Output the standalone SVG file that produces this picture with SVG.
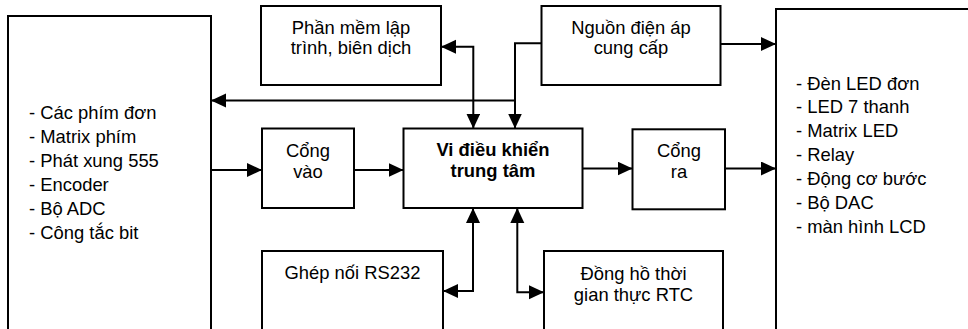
<svg xmlns="http://www.w3.org/2000/svg" width="968" height="329" viewBox="0 0 968 329">
<style>
.box{fill:#fff;stroke:#000;stroke-width:2}
.t{font-family:"Liberation Sans",Arial,sans-serif;font-size:18.4px;fill:#000}
.c{text-anchor:middle}
.b{font-weight:bold}
.ln{fill:none;stroke:#000;stroke-width:2}
</style>
<defs>
<marker id="ah" markerUnits="userSpaceOnUse" markerWidth="16" markerHeight="15" refX="15" refY="7" orient="auto-start-reverse">
<path d="M0,0 L15,7 L0,14 z" fill="#000"/>
</marker>
</defs>
<rect width="968" height="329" fill="#fff"/>
<g id="input-devices">
<rect class="box" x="8" y="16" width="203" height="330"/>
<text class="t" x="29" y="119.3">- Các phím đơn</text>
<text class="t" x="29" y="143.3">- Matrix phím</text>
<text class="t" x="29" y="167.3">- Phát xung 555</text>
<text class="t" x="29" y="191.3">- Encoder</text>
<text class="t" x="29" y="215.3">- Bộ ADC</text>
<text class="t" x="29" y="239.3">- Công tắc bit</text>
</g>
<g id="output-devices">
<rect class="box" x="776" y="9" width="200" height="340"/>
<text class="t" x="796" y="89.5">- Đèn LED đơn</text>
<text class="t" x="796" y="113.4">- LED 7 thanh</text>
<text class="t" x="796" y="137.3">- Matrix LED</text>
<text class="t" x="796" y="161.2">- Relay</text>
<text class="t" x="796" y="185.1">- Động cơ bước</text>
<text class="t" x="796" y="209">- Bộ DAC</text>
<text class="t" x="796" y="232.9">- màn hình LCD</text>
</g>
<g id="software">
<rect class="box" x="261" y="6" width="180" height="79"/>
<text class="t c" x="351" y="33.5">Phần mềm lập</text>
<text class="t c" x="351" y="54.3">trình, biên dịch</text>
</g>
<g id="power">
<rect class="box" x="541.5" y="6" width="179" height="79"/>
<text class="t c" x="631" y="33.5">Nguồn điện áp</text>
<text class="t c" x="631" y="53.8">cung cấp</text>
</g>
<g id="input-port">
<rect class="box" x="262" y="128.5" width="92" height="79.5"/>
<text class="t c" x="308" y="156.7">Cổng</text>
<text class="t c" x="308" y="177.7">vào</text>
</g>
<g id="mcu">
<rect class="box" x="403.5" y="128.5" width="179" height="79.5"/>
<text class="t c b" x="493" y="155.7">Vi điều khiển</text>
<text class="t c b" x="493" y="177">trung tâm</text>
</g>
<g id="output-port">
<rect class="box" x="632.5" y="129.3" width="92.5" height="80"/>
<text class="t c" x="679" y="157">Cổng</text>
<text class="t c" x="679" y="178.3">ra</text>
</g>
<g id="rs232">
<rect class="box" x="262" y="251" width="181" height="100"/>
<text class="t c" x="352.5" y="279">Ghép nối RS232</text>
</g>
<g id="rtc">
<rect class="box" x="544" y="251" width="179" height="100"/>
<text class="t c" x="633.5" y="280">Đồng hồ thời</text>
<text class="t c" x="633.5" y="301">gian thực RTC</text>
</g>
<g id="connectors">
<path class="ln" d="M441,46.7 H473.3 V128.5" marker-start="url(#ah)" marker-end="url(#ah)"/>
<path class="ln" d="M541.5,43.3 H515 V128.5" marker-end="url(#ah)"/>
<path class="ln" d="M515,100.5 H211" marker-end="url(#ah)"/>
<path class="ln" d="M720.5,44 H776" marker-end="url(#ah)"/>
<path class="ln" d="M211,170 H262" marker-end="url(#ah)"/>
<path class="ln" d="M354,170 H403.5" marker-end="url(#ah)"/>
<path class="ln" d="M582.5,168.5 H632.5" marker-end="url(#ah)"/>
<path class="ln" d="M725,168.5 H776" marker-end="url(#ah)"/>
<path class="ln" d="M443,291 H473 V208" marker-start="url(#ah)" marker-end="url(#ah)"/>
<path class="ln" d="M544,292.3 H517.3 V208" marker-start="url(#ah)" marker-end="url(#ah)"/>
</g>
</svg>
